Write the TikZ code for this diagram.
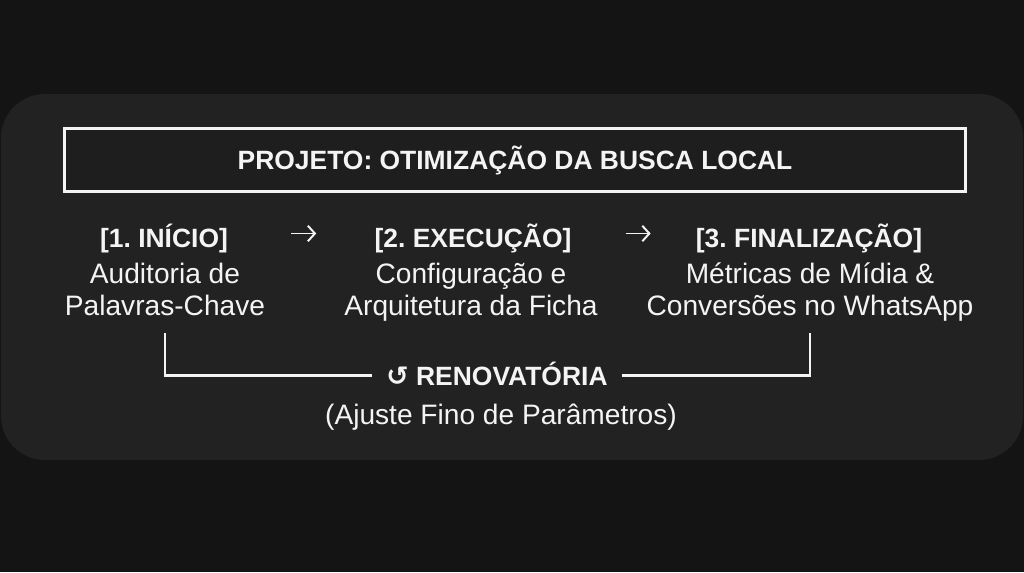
\documentclass[tikz,border=0pt]{standalone}
\usepackage{fontspec}
\setmainfont{Liberation Sans}
\newfontfamily\symfont{DejaVu Sans}
\usetikzlibrary{calc,arrows.meta}
\frenchspacing

\definecolor{pagebg}{HTML}{141414}
\definecolor{panelbg}{HTML}{222222}
\definecolor{boxbg}{HTML}{1E1E1E}
\definecolor{ink}{HTML}{F4F4F4}

\tikzset{
    titlebox/.style={draw=ink, line width=2.1pt, fill=boxbg, text=ink,
        minimum width=22.52cm, minimum height=1.57cm,
        text height=13.5pt, text depth=0pt,
        font=\fontsize{18.8}{22}\selectfont\bfseries},
    stagehead/.style={text=ink, anchor=base, text height=13.5pt, text depth=0pt,
        font=\fontsize{18.8}{22}\selectfont\bfseries},
    stagetext/.style={text=ink, anchor=base, align=center, inner ysep=6pt,
        font=\fontsize{20}{22.5}\selectfont},
    flowarrow/.style={draw=ink, line width=1.4pt, -{Straight Barb[length=5pt,width=11pt]}},
    loopline/.style={draw=ink, line width=1.5pt},
    looplabel/.style={text=ink, anchor=base, inner xsep=10pt,
        text height=13.5pt, text depth=0pt,
        font=\fontsize{18.8}{22}\selectfont\bfseries},
    loopnote/.style={text=ink, anchor=base, font=\fontsize{20}{22.5}\selectfont}
}

\begin{document}
\begin{tikzpicture}[x=0.025cm, y=-0.025cm]
    % Background and panel
    \fill[pagebg] (0,0) rectangle (1024,572);
    \useasboundingbox (0,0) rectangle (1024,572);
    \fill[panelbg, rounded corners=1.1cm] (1,94) rectangle (1023,460);

    % Title
    \node[titlebox] (title) at (515,160) {PROJETO: OTIMIZAÇÃO DA BUSCA LOCAL};

    % Stages
    \node[stagehead] (h1) at (164,247) {[1. INÍCIO]};
    \node[stagehead] (h2) at (473,247) {[2. EXECUÇÃO]};
    \node[stagehead] (h3) at (809,247) {[3. FINALIZAÇÃO]};

    % descriptions, placed by the baseline of their last line
    \node[stagetext] (d1) at (165,315) {Auditoria de\\Palavras-Chave\strut};
    \node[stagetext] (d2) at (471,315) {Configuração e\\Arquitetura da Ficha\strut};
    \node[stagetext] (d3) at (810,315) {Métricas de Mídia \&\\Conversões no WhatsApp\strut};

    % Arrows between stages
    \draw[flowarrow] ($(h1.east)!0.5!(h2.west)+(-10,-4)$) -- ++(25,0);
    \draw[flowarrow] ($(h2.east)!0.5!(h3.west)+(-8,-4)$) -- ++(25,0);

    % Renewal loop
    \node[looplabel] (loop) at (497,385) {{\symfont\fontsize{19}{22}\selectfont ↺} RENOVATÓRIA};
    \node[loopnote] (note) at (501,424) {(Ajuste Fino de Parâmetros)};
    \draw[loopline] (d1.south) |- (loop.west);
    \draw[loopline] (loop.east) -| (d3.south);
\end{tikzpicture}
\end{document}
